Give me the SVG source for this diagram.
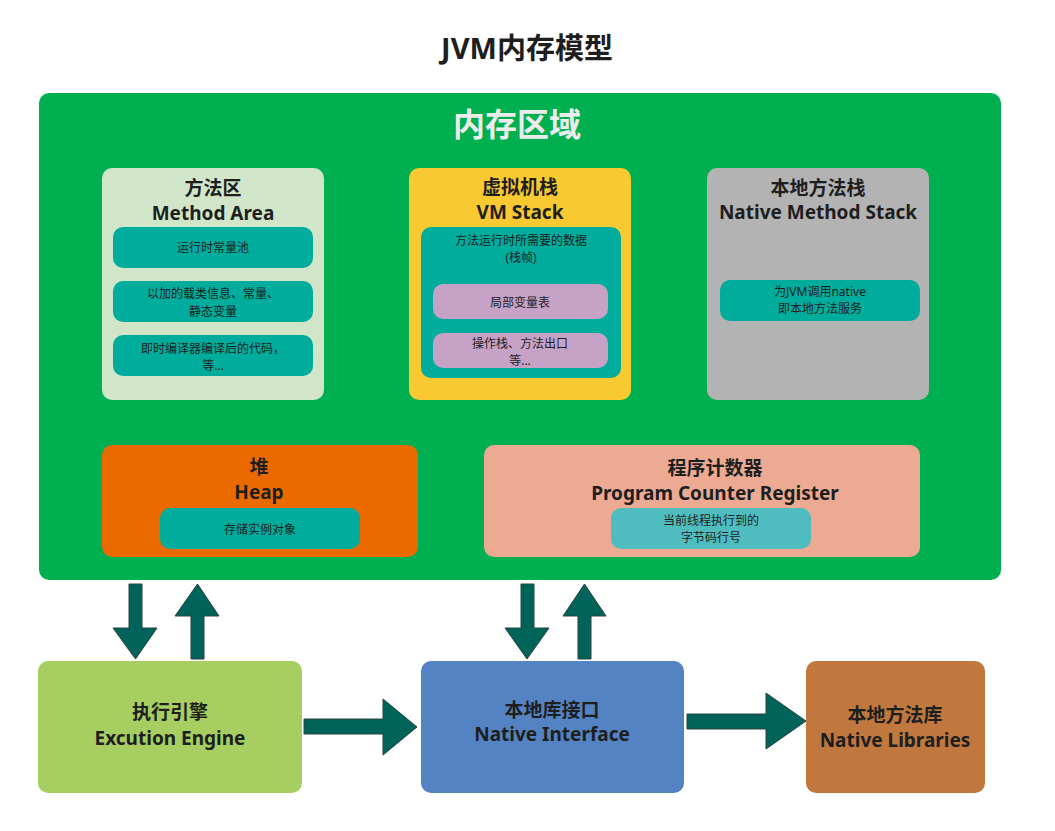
<svg xmlns="http://www.w3.org/2000/svg" width="1055" height="831" viewBox="0 0 1055 831">
<style>
text{font-family:"Noto Sans","Noto Sans CJK SC",sans-serif;fill:#1e1e1e;text-anchor:middle;dominant-baseline:central}
.h{font-size:19px;font-weight:bold}
.s{font-size:12px}
.arr{fill:#00635a;stroke:#28433f;stroke-width:1}
</style>
<rect width="1055" height="831" fill="#ffffff"/>
<text x="527" y="47" style="font-size:29px;font-weight:bold">JVM内存模型</text>
<g id="memory-area">
<rect x="39" y="93" width="962" height="487" rx="10" fill="#00b050"/>
<text x="517" y="123" style="font-size:32px;font-weight:bold;fill:#ececec">内存区域</text>
</g>
<g id="method-area">
<rect x="102" y="168" width="222" height="232" rx="10" fill="#d1e6c9"/>
<text class="h" x="213" y="188">方法区</text>
<text class="h" x="213" y="213">Method Area</text>
<rect x="113" y="227" width="200" height="41" rx="10" fill="#00ac9c"/>
<text class="s" x="213" y="247">运行时常量池</text>
<rect x="113" y="281" width="200" height="41" rx="10" fill="#00ac9c"/>
<text class="s" x="213" y="293">以加的载类信息、常量、</text>
<text class="s" x="213" y="311">静态变量</text>
<rect x="113" y="335" width="200" height="41" rx="10" fill="#00ac9c"/>
<text class="s" x="213" y="348">即时编译器编译后的代码，</text>
<text class="s" x="213" y="365">等...</text>
</g>
<g id="vm-stack">
<rect x="409" y="168" width="222" height="232" rx="10" fill="#f9c932"/>
<text class="h" x="520" y="187">虚拟机栈</text>
<text class="h" x="520" y="212">VM Stack</text>
<rect x="421" y="227" width="200" height="151" rx="10" fill="#00ac9c"/>
<text class="s" x="521" y="240">方法运行时所需要的数据</text>
<text class="s" x="521" y="257">(栈帧)</text>
<rect x="433" y="284" width="175" height="35" rx="10" fill="#c7a2c7"/>
<text class="s" x="520" y="302">局部变量表</text>
<rect x="433" y="333" width="175" height="35" rx="10" fill="#c7a2c7"/>
<text class="s" x="520" y="343">操作栈、方法出口</text>
<text class="s" x="520" y="360">等...</text>
</g>
<g id="native-method-stack">
<rect x="707" y="168" width="222" height="232" rx="10" fill="#b3b3b3"/>
<text class="h" x="818" y="188">本地方法栈</text>
<text class="h" x="818" y="212">Native Method Stack</text>
<rect x="720" y="280" width="200" height="41" rx="10" fill="#00ac9c"/>
<text class="s" x="820" y="291">为JVM调用native</text>
<text class="s" x="820" y="308">即本地方法服务</text>
</g>
<g id="heap">
<rect x="102" y="445" width="316" height="112" rx="10" fill="#ea6a00"/>
<text class="h" x="259" y="467">堆</text>
<text class="h" x="259" y="492">Heap</text>
<rect x="160" y="508" width="200" height="41" rx="10" fill="#00ac9c"/>
<text class="s" x="260" y="529">存储实例对象</text>
</g>
<g id="program-counter">
<rect x="484" y="445" width="436" height="112" rx="10" fill="#edaa93"/>
<text class="h" x="715" y="468">程序计数器</text>
<text class="h" x="715" y="493">Program Counter Register</text>
<rect x="611" y="508" width="200" height="41" rx="10" fill="#4fbdbf"/>
<text class="s" x="711" y="520">当前线程执行到的</text>
<text class="s" x="711" y="537">字节码行号</text>
</g>
<g id="execution-engine">
<rect x="38" y="661" width="264" height="132" rx="10" fill="#a6ce61"/>
<text class="h" x="170" y="712">执行引擎</text>
<text class="h" x="170" y="738">Excution Engine</text>
</g>
<g id="native-interface">
<rect x="421" y="661" width="263" height="132" rx="10" fill="#5383c3"/>
<text class="h" x="552" y="710">本地库接口</text>
<text class="h" x="552" y="734">Native Interface</text>
</g>
<g id="native-libraries">
<rect x="806" y="661" width="179" height="132" rx="10" fill="#c0783e"/>
<text class="h" x="895" y="715">本地方法库</text>
<text class="h" x="895" y="740">Native Libraries</text>
</g>
<g id="connectors">
<polygon class="arr" points="129,584 142,584 142,628 157,628 135.5,659 113,628 129,628"/>
<polygon class="arr" points="191,659 204,659 204,616 219,616 197.5,584 175,616 191,616"/>
<polygon class="arr" points="521,584 534,584 534,628 549,628 527,659 505,628 521,628"/>
<polygon class="arr" points="578,659 591,659 591,616 606,616 584.5,584 563,616 578,616"/>
<polygon class="arr" points="304,719 383,719 383,699 417,727 383,755 383,734 304,734"/>
<polygon class="arr" points="687,714 766,714 766,693 806,721 766,749 766,729 687,729"/>
</g>
</svg>
